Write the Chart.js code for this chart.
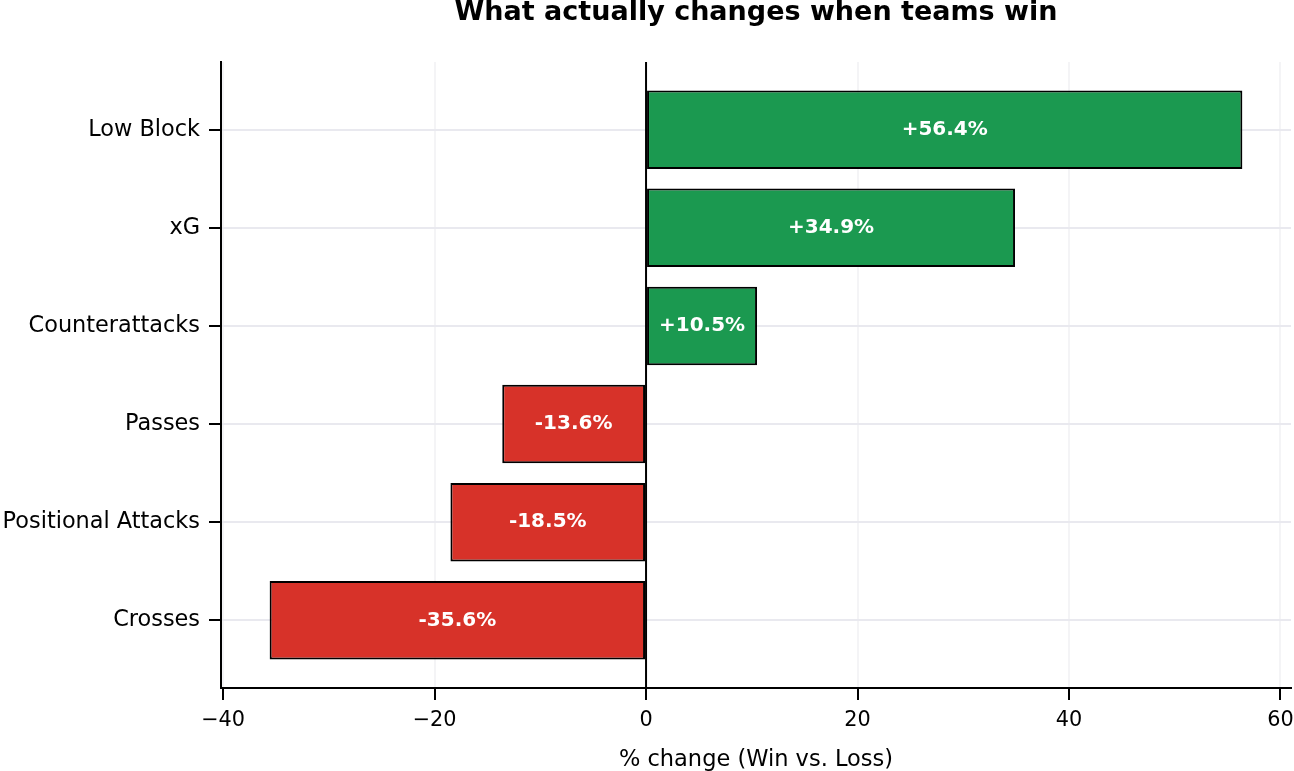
<!DOCTYPE html>
<html lang="en">
<head>
    <meta charset="UTF-8">
    <title>What actually changes when teams win</title>
    <script src="https://cdn.jsdelivr.net/npm/chart.js@4.4.1/dist/chart.umd.min.js"></script>
    <style>
        html, body { margin: 0; padding: 0; background: #fff; }
        #wrap { width: 1294px; height: 771px; }
    </style>
</head>
<body>
    <div id="wrap"><canvas id="chart" width="1294" height="771"></canvas></div>

    <script>
        // data
        const categories = ['Low Block', 'xG', 'Counterattacks', 'Passes', 'Positional Attacks', 'Crosses'];
        const pctChange = [56.4, 34.9, 10.5, -13.6, -18.5, -35.6];
        const xTicks = [-40, -20, 0, 20, 40, 60];

        const GREEN = '#1b9950';
        const RED = '#d73229';
        const FONT = 'DejaVu Sans';

        // zero line, drawn under the bars
        const zeroLine = {
            id: 'zeroLine',
            beforeDatasetsDraw(chart) {
                const { ctx, chartArea, scales } = chart;
                const x0 = scales.x.getPixelForValue(0);
                ctx.save();
                ctx.strokeStyle = '#000';
                ctx.lineWidth = 2;
                ctx.beginPath();
                ctx.moveTo(x0, chartArea.top);
                ctx.lineTo(x0, chartArea.bottom);
                ctx.stroke();
                ctx.restore();
            }
        };

        // white value labels in the middle of each bar
        const barLabels = {
            id: 'barLabels',
            afterDatasetsDraw(chart) {
                const { ctx } = chart;
                const meta = chart.getDatasetMeta(0);
                ctx.save();
                ctx.fillStyle = '#fff';
                ctx.font = 'bold 20px "' + FONT + '"';
                ctx.textAlign = 'center';
                ctx.textBaseline = 'middle';
                meta.data.forEach((bar, i) => {
                    const v = pctChange[i];
                    const txt = (v > 0 ? '+' : '') + v.toFixed(1) + '%';
                    ctx.fillText(txt, (bar.x + bar.base) / 2, bar.y);
                });
                ctx.restore();
            }
        };

        const ctx = document.getElementById('chart').getContext('2d');
        new Chart(ctx, {
            type: 'bar',
            data: {
                datasets: [{
                    data: pctChange.map((v, i) => ({ x: v, y: i })),
                    backgroundColor: pctChange.map(v => v >= 0 ? GREEN : RED),
                    borderColor: '#000',
                    borderWidth: 2,
                    borderSkipped: false,
                    barPercentage: 0.8,
                    categoryPercentage: 1.0
                }]
            },
            options: {
                indexAxis: 'y',
                responsive: false,
                devicePixelRatio: 1,
                animation: false,
                layout: { padding: { left: 0, right: 3, top: 0, bottom: 0 } },
                plugins: {
                    legend: { display: false },
                    tooltip: { enabled: false },
                    title: {
                        display: true,
                        fullSize: false,
                        text: 'What actually changes when teams win',
                        color: '#000',
                        font: { family: FONT, size: 27, weight: 'bold', lineHeight: 0.8 },
                        padding: { top: 2, bottom: 38.4 }
                    }
                },
                scales: {
                    x: {
                        type: 'linear',
                        min: -40.2,
                        max: 61.0,
                        afterBuildTicks: s => { s.ticks = xTicks.map(v => ({ value: v })); },
                        afterFit: s => { s.height = 83; s.paddingLeft = 0; s.paddingRight = 0; },
                        ticks: {
                            color: '#000',
                            font: { family: FONT, size: 20.8 },
                            padding: 8,
                            maxRotation: 0,
                            callback: v => String(v).replace('-', '\u2212')
                        },
                        grid: {
                            color: '#f4f4f6',
                            lineWidth: 2,
                            tickColor: '#000',
                            tickLength: 12,
                            tickWidth: 2
                        },
                        border: { display: true, color: '#000', width: 2 },
                        title: {
                            display: true,
                            text: '% change (Win vs. Loss)',
                            color: '#000',
                            font: { family: FONT, size: 22.5, lineHeight: 1.0 },
                            padding: { top: 0, bottom: 0 }
                        }
                    },
                    y: {
                        type: 'linear',
                        reverse: true,
                        offset: false,
                        min: -0.69,
                        max: 5.69,
                        afterBuildTicks: s => { s.ticks = categories.map((c, i) => ({ value: i })); },
                        afterFit: s => { s.width = 221; s.paddingTop = 0; s.paddingBottom = 0; },
                        ticks: {
                            color: '#000',
                            font: { family: FONT, size: 22.4 },
                            padding: 9,
                            callback: v => categories[v]
                        },
                        grid: {
                            offset: false,
                            color: '#e9e9ef',
                            lineWidth: 2,
                            tickColor: '#000',
                            tickLength: 12,
                            tickWidth: 2
                        },
                        border: { display: true, color: '#000', width: 2 }
                    }
                }
            },
            plugins: [zeroLine, barLabels]
        });
    </script>
</body>
</html>
